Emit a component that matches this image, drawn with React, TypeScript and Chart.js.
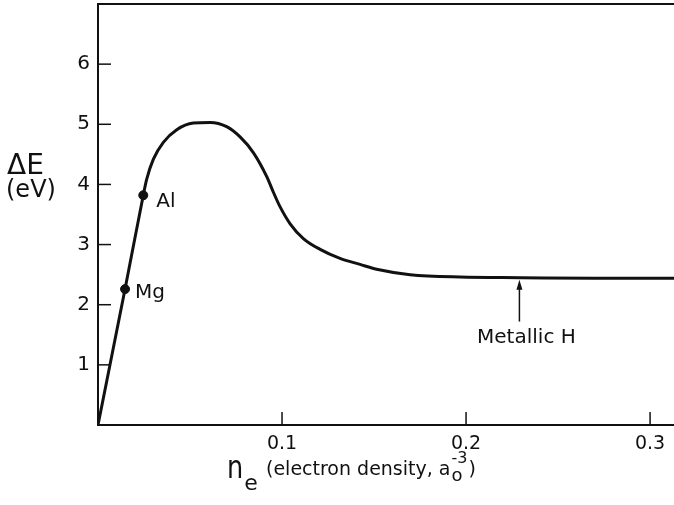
import React, { useEffect, useRef } from 'react';
import { Chart, registerables } from 'chart.js';

Chart.register(...registerables);

// Curve ΔE(n_e)
const curveX = [0, 0.0147, 0.0246, 0.0264, 0.0301, 0.0355, 0.0428, 0.0518, 0.0609, 0.0699, 0.0772, 0.0844, 0.0917, 0.0953, 0.0989, 0.1043, 0.1116, 0.1207, 0.1315, 0.1424, 0.1514, 0.1696, 0.1967, 0.23, 0.27, 0.313];
const curveY = [0, 2.26, 3.82, 4.08, 4.42, 4.7, 4.91, 5.02, 5.03, 4.96, 4.79, 4.53, 4.13, 3.87, 3.63, 3.35, 3.1, 2.92, 2.77, 2.67, 2.59, 2.5, 2.46, 2.45, 2.44, 2.44];

// Marked metals
const markerNames = ['Mg', 'Al'];
const markerX = [0.0147, 0.0246];
const markerY = [2.26, 3.82];

// Annotation arrow for metallic hydrogen
const arrowLabel = 'Metallic H';
const arrowX = 0.229;
const arrowTopY = 2.45;
const arrowBottomY = 1.72;

// Axis ticks
const xTicks = [0.1, 0.2, 0.3];
const xTickLabels = ['0.1', '0.2', '0.3'];
const yTicks = [1, 2, 3, 4, 5, 6];
const yTickLabels = ['1', '2', '3', '4', '5', '6'];

const FONT = '"DejaVu Sans", sans-serif';
const INK = '#111';

const decorPlugin = {
  id: 'decor',
  afterDraw(chart: any) {
    const { ctx, chartArea } = chart;
    const xs = chart.scales.x;
    const ys = chart.scales.y;
    ctx.save();
    ctx.strokeStyle = INK;
    ctx.fillStyle = INK;
    // top frame line
    ctx.lineWidth = 2;
    ctx.beginPath();
    ctx.moveTo(chartArea.left, chartArea.top);
    ctx.lineTo(chartArea.right, chartArea.top);
    ctx.stroke();
    // inward tick marks
    ctx.lineWidth = 1.5;
    yTicks.forEach((v) => {
      const y = ys.getPixelForValue(v);
      ctx.beginPath();
      ctx.moveTo(chartArea.left, y);
      ctx.lineTo(chartArea.left + 13, y);
      ctx.stroke();
    });
    xTicks.forEach((v) => {
      const x = xs.getPixelForValue(v);
      ctx.beginPath();
      ctx.moveTo(x, chartArea.bottom);
      ctx.lineTo(x, chartArea.bottom - 13);
      ctx.stroke();
    });
    // marker labels
    ctx.font = `20px ${FONT}`;
    ctx.textBaseline = 'alphabetic';
    ctx.textAlign = 'left';
    const labelDx = [10, 13];
    const labelDy = [9, 12];
    markerNames.forEach((name, i) => {
      const px = xs.getPixelForValue(markerX[i]);
      const py = ys.getPixelForValue(markerY[i]);
      ctx.fillText(name, px + labelDx[i], py + labelDy[i]);
    });
    // arrow
    const ax = xs.getPixelForValue(arrowX);
    const aTop = ys.getPixelForValue(arrowTopY) + 2;
    const aBot = ys.getPixelForValue(arrowBottomY);
    ctx.lineWidth = 1.5;
    ctx.beginPath();
    ctx.moveTo(ax, aBot);
    ctx.lineTo(ax, aTop + 6);
    ctx.stroke();
    ctx.beginPath();
    ctx.moveTo(ax, aTop);
    ctx.lineTo(ax - 3, aTop + 10);
    ctx.lineTo(ax + 3, aTop + 10);
    ctx.closePath();
    ctx.fill();
    ctx.textAlign = 'center';
    ctx.fillText(arrowLabel, ax + 7, aBot + 21);
    // y title
    ctx.textAlign = 'left';
    ctx.font = `28px ${FONT}`;
    ctx.fillText('ΔE', 7, 174);
    ctx.font = `24px ${FONT}`;
    ctx.fillText('(eV)', 6, 197);
    // x title
    let x = 227;
    ctx.save();
    ctx.font = `32px ${FONT}`;
    ctx.translate(x, 478);
    ctx.scale(0.8, 1);
    ctx.fillText('n', 0, 0);
    const nW = ctx.measureText('n').width * 0.8;
    ctx.restore();
    x += nW + 1;
    ctx.font = `22px ${FONT}`;
    ctx.fillText('e', x, 490);
    x = 266;
    ctx.font = `19px ${FONT}`;
    const main = '(electron density, a';
    ctx.fillText(main, x, 475);
    x += ctx.measureText(main).width + 1;
    ctx.font = `18px ${FONT}`;
    ctx.fillText('o', x, 481);
    ctx.font = `16px ${FONT}`;
    ctx.fillText('-3', x, 463);
    x += Math.max(ctx.measureText('-3').width, 10) + 1;
    ctx.font = `19px ${FONT}`;
    ctx.fillText(')', x, 475);
    ctx.restore();
  },
};

const noPad = (s: any) => {
  s.paddingTop = 0;
  s.paddingBottom = 0;
  s.paddingLeft = 0;
  s.paddingRight = 0;
};

export default function App() {
  const ref = useRef<HTMLCanvasElement | null>(null);
  useEffect(() => {
    if (!ref.current) return;
    const chart = new Chart(ref.current, {
      type: 'line',
      data: {
        datasets: [
          {
            data: curveX.map((x, i) => ({ x, y: curveY[i] })),
            borderColor: INK,
            borderWidth: 3,
            pointRadius: 0,
            cubicInterpolationMode: 'monotone',
            fill: false,
          },
          {
            type: 'scatter',
            data: markerX.map((x, i) => ({ x, y: markerY[i] })),
            backgroundColor: INK,
            borderColor: INK,
            pointRadius: 4.5,
            showLine: false,
          } as any,
        ],
      },
      options: {
        animation: false,
        responsive: false,
        events: [],
        layout: { autoPadding: false, padding: { top: 4, right: 0, left: 0, bottom: 0 } },
        plugins: { legend: { display: false }, tooltip: { enabled: false } },
        scales: {
          x: {
            type: 'linear',
            min: 0,
            max: 0.313,
            grid: { display: false, drawTicks: false },
            border: { display: true, color: INK, width: 2 },
            afterBuildTicks: (s: any) => {
              s.ticks = xTicks.map((v) => ({ value: v }));
            },
            afterFit: (s: any) => {
              s.height = 80;
              noPad(s);
            },
            ticks: {
              color: INK,
              padding: 8,
              font: { family: FONT, size: 19 },
              maxRotation: 0,
              callback: (v: any) => {
                const i = xTicks.indexOf(Number(v));
                return i >= 0 ? xTickLabels[i] : '';
              },
            },
          },
          y: {
            type: 'linear',
            min: 0,
            max: 7,
            grid: { display: false, drawTicks: false },
            border: { display: true, color: INK, width: 2 },
            afterBuildTicks: (s: any) => {
              s.ticks = yTicks.map((v) => ({ value: v }));
            },
            afterFit: (s: any) => {
              s.width = 98;
              noPad(s);
            },
            ticks: {
              color: INK,
              padding: 8,
              font: { family: FONT, size: 20 },
              callback: (v: any) => {
                const i = yTicks.indexOf(Number(v));
                return i >= 0 ? yTickLabels[i] : '';
              },
            },
          },
        },
      },
      plugins: [decorPlugin],
    } as any);
    return () => chart.destroy();
  }, []);
  return (
    <div style={{ position: 'absolute', left: 0, top: 0, width: 674, height: 505, background: '#fff' }}>
      <canvas ref={ref} width={674} height={505} style={{ width: 674, height: 505 }} />
    </div>
  );
}
